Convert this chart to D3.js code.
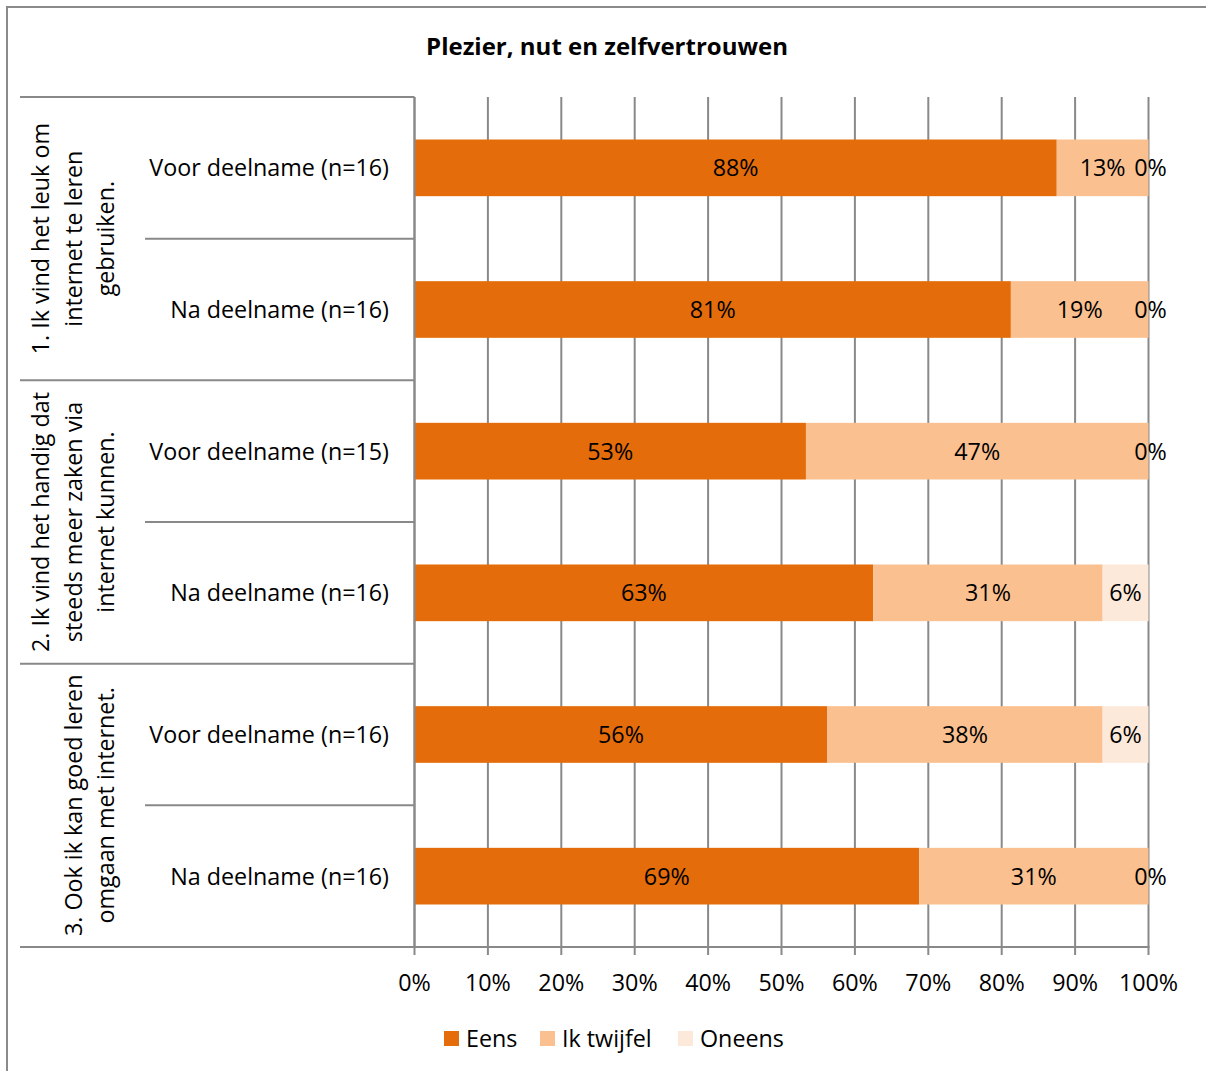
<!DOCTYPE html>
<html>
<head>
<meta charset="utf-8">
<script src="https://cdn.jsdelivr.net/npm/d3@7"></script>
<style>
  html, body { margin: 0; padding: 0; background: #ffffff; }
  svg { display: block; font-family: "Open Sans", Lato, sans-serif; }
</style>
</head>
<body>
<svg id="chart" width="1206" height="1071"></svg>
<script>
// Question groups (multi-line, drawn rotated) and the two measurements per group
const groupLabels = [
  ["1. Ik vind het leuk om", "internet te leren", "gebruiken."],
  ["2. Ik vind het handig dat", "steeds meer zaken via", "internet kunnen."],
  ["3. Ook ik kan goed leren", "omgaan met internet."]
];
const rowLabels = [
  "Voor deelname (n=16)", "Na deelname (n=16)",
  "Voor deelname (n=15)", "Na deelname (n=16)",
  "Voor deelname (n=16)", "Na deelname (n=16)"
];

// Answer shares in percent, one array per answer category
const seriesNames = ["Eens", "Ik twijfel", "Oneens"];
const eens      = [87.5, 81.25, 53.33, 62.5, 56.25, 68.75];
const twijfel   = [12.5, 18.75, 46.67, 31.25, 37.5, 31.25];
const oneens    = [0, 0, 0, 6.25, 6.25, 0];
const colors    = ["#E46C0A", "#FAC090", "#FDE9D9"];
const xTicks    = [0, 10, 20, 30, 40, 50, 60, 70, 80, 90, 100];
const title     = "Plezier, nut en zelfvertrouwen";

const svg = d3.select("#chart");
const gridColor = "#898989";
const fs = 23.3;

// Chart frame
svg.append("rect")
  .attr("x", 7).attr("y", 7).attr("width", 1220).attr("height", 1100)
  .attr("fill", "#fff").attr("stroke", "#8a8a8a").attr("stroke-width", 2);

const plot = { left: 414.5, right: 1148.5, top: 97, bottom: 947 };

const x = d3.scaleLinear().domain([0, 100]).range([plot.left, plot.right]);
const y = d3.scaleBand().domain(d3.range(rowLabels.length))
  .range([plot.top, plot.bottom]).paddingInner(0.6).paddingOuter(0.3);
const band = (plot.bottom - plot.top) / rowLabels.length;

// Title
svg.append("text")
  .attr("x", 607).attr("y", 55)
  .attr("text-anchor", "middle")
  .attr("font-size", 24).attr("font-weight", "bold").attr("fill", "#000")
  .text(title);

// Vertical gridlines with tick marks below the axis
svg.append("g").selectAll("line").data(xTicks).join("line")
  .attr("x1", d => x(d)).attr("x2", d => x(d))
  .attr("y1", plot.top).attr("y2", plot.bottom + 8)
  .attr("stroke", gridColor).attr("stroke-width", 2);

// Horizontal axis line
svg.append("line")
  .attr("x1", 20).attr("x2", plot.right + 1)
  .attr("y1", plot.bottom).attr("y2", plot.bottom)
  .attr("stroke", gridColor).attr("stroke-width", 2);

// Category-axis separators: group boundaries (long) and row boundaries (short)
svg.selectAll("line.gsep").data([0, 2, 4]).join("line")
  .attr("x1", 20).attr("x2", plot.left)
  .attr("y1", d => plot.top + d * band).attr("y2", d => plot.top + d * band)
  .attr("stroke", gridColor).attr("stroke-width", 2);
svg.selectAll("line.rsep").data([1, 3, 5]).join("line")
  .attr("x1", 145).attr("x2", plot.left)
  .attr("y1", d => plot.top + d * band).attr("y2", d => plot.top + d * band)
  .attr("stroke", gridColor).attr("stroke-width", 2);

// Stacked bars
const stackData = rowLabels.map((lab, i) => {
  let acc = 0;
  return [eens[i], twijfel[i], oneens[i]].map((v, k) => {
    const seg = { row: i, k, v, x0: acc, x1: acc + v };
    acc += v;
    return seg;
  });
}).flat();

svg.append("g").selectAll("rect").data(stackData).join("rect")
  .attr("x", d => x(d.x0))
  .attr("y", d => y(d.row))
  .attr("width", d => Math.max(0, x(d.x1) - x(d.x0)))
  .attr("height", y.bandwidth())
  .attr("fill", d => colors[d.k]);

// Category-axis line drawn over the bar starts
svg.append("line")
  .attr("x1", plot.left).attr("x2", plot.left)
  .attr("y1", plot.top).attr("y2", plot.bottom)
  .attr("stroke", gridColor).attr("stroke-width", 2);

// Data labels, centred in each segment
const fmt = v => Math.round(v) + "%";
svg.append("g").selectAll("text").data(stackData).join("text")
  .attr("x", d => (x(d.x0) + x(d.x1)) / 2 + (d.v === 0 ? 2 : 0))
  .attr("y", d => y(d.row) + y.bandwidth() / 2)
  .attr("dy", "0.36em")
  .attr("text-anchor", "middle")
  .attr("font-size", fs).attr("fill", "#000")
  .text(d => fmt(d.v));

// Row labels
svg.append("g").selectAll("text").data(rowLabels).join("text")
  .attr("x", 389)
  .attr("y", (d, i) => y(i) + y.bandwidth() / 2)
  .attr("dy", "0.36em")
  .attr("text-anchor", "end")
  .attr("font-size", fs).attr("fill", "#000")
  .text(d => d);

// Group labels, rotated; last line sits closest to the row labels
const lineGap = 32.5;
groupLabels.forEach((lines, g) => {
  const cy = plot.top + (g * 2 + 1) * band;
  const n = lines.length;
  lines.forEach((ln, j) => {
    const cx = 106 - (n - 1 - j) * lineGap;
    svg.append("text")
      .attr("transform", `translate(${cx},${cy}) rotate(-90)`)
      .attr("dy", "0.36em")
      .attr("text-anchor", "middle")
      .attr("font-size", fs).attr("fill", "#000")
      .text(ln);
  });
});

// X tick labels
svg.append("g").selectAll("text").data(xTicks).join("text")
  .attr("x", d => x(d))
  .attr("y", 983)
  .attr("dy", "0.36em")
  .attr("text-anchor", "middle")
  .attr("font-size", fs).attr("fill", "#000")
  .text(d => d + "%");

// Legend
const legendX = [444, 540, 678];
const lg = svg.append("g").selectAll("g").data(seriesNames).join("g")
  .attr("transform", (d, i) => `translate(${legendX[i]},1039)`);
lg.append("rect").attr("x", 0).attr("y", -8).attr("width", 15).attr("height", 15)
  .attr("fill", (d, i) => colors[i]);
lg.append("text").attr("x", 22).attr("dy", "0.36em")
  .attr("font-size", fs).attr("fill", "#000")
  .text(d => d);
</script>
</body>
</html>
